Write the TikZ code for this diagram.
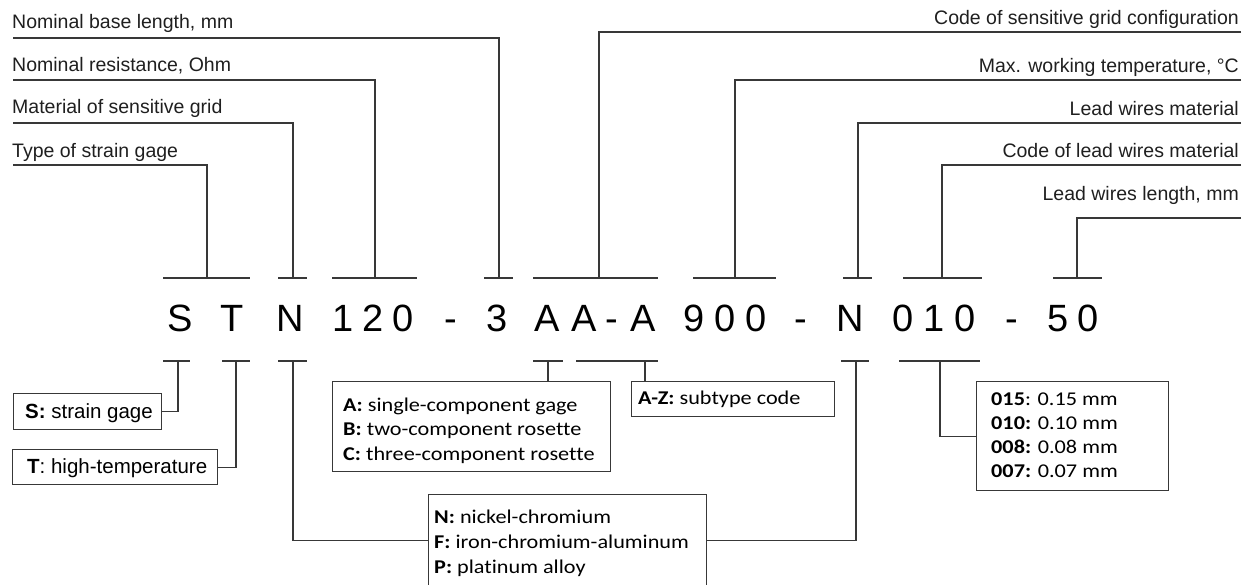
\documentclass[tikz,border=0pt]{standalone}
\usepackage{fontspec}
\setmainfont{Liberation Sans}
\newfontfamily\calib[FakeStretch=1.14,Ligatures=NoCommon]{Carlito}
\begin{document}
\begin{tikzpicture}[x=1pt,y=-1pt,
  ln/.style={line width=1.2pt, draw=black!78},
  lbl/.style={inner sep=0, font=\fontsize{19.5}{23}\selectfont, text=black!88},
  code/.style={inner sep=0, anchor=base, font=\fontsize{38}{40}\selectfont},
  box/.style={draw=black!78, line width=1.2pt, inner sep=0, anchor=north west},
  arl/.style={inner sep=0, anchor=base west, font=\fontsize{20.5}{24}\selectfont},
  cal/.style={inner sep=0, anchor=base west, font=\calib\fontsize{19.5}{24}\selectfont},
]
\useasboundingbox (0,0) rectangle (1257,584);
\clip (0,0) rectangle (1257,584);

% ---- code characters ----
\foreach \x/\c [count=\i] in {180/S, 232/T, 290/N, 343/1, 373/2, 403/0, 451/-, 497/3,
  547/A, 584/A, 612/-, 643/A, 694/9, 725/0, 756/0, 801/-, 850/N, 903/0, 934/1, 965/0,
  1012/-, 1058/5, 1088/0}
  \node[code] (c\i) at (\x,331) {\c};

% ---- top tick bars ----
\draw[ln] (163,278) -- (250,278);
\draw[ln] (278,278) -- (307,278);
\draw[ln] (332,278) -- (417,278);
\draw[ln] (484,278) -- (513,278);
\draw[ln] (533,278) -- (658,278);
\draw[ln] (693,278) -- (776,278);
\draw[ln] (843,278) -- (872,278);
\draw[ln] (903,278) -- (982,278);
\draw[ln] (1053,278) -- (1102,278);
\coordinate (tST) at (207,278);
\coordinate (tN) at (293,278);
\coordinate (t120) at (375,278);
\coordinate (t3) at (499,278);
\coordinate (tAA) at (599,278);
\coordinate (t900) at (735,278);
\coordinate (tN2) at (858,278);
\coordinate (t010) at (942,278);
\coordinate (t50) at (1077,278);

% ---- left labels ----
\node[lbl, anchor=base west] (L1) at (12,28) {Nominal base length, mm};
\node[lbl, anchor=base west] (L2) at (12,71) {Nominal resistance, Ohm};
\node[lbl, anchor=base west] (L3) at (12,113) {Material of sensitive grid};
\node[lbl, anchor=base west] (L4) at (12,157) {Type of strain gage};
\coordinate (L1s) at (13,38);
\coordinate (L2s) at (13,80);
\coordinate (L3s) at (13,123);
\coordinate (L4s) at (13,165);
\draw[ln] (L1s) -| (t3);
\draw[ln] (L2s) -| (t120);
\draw[ln] (L3s) -| (tN);
\draw[ln] (L4s) -| (tST);

% ---- right labels ----
\node[lbl, anchor=base east] (R1) at (1239,24) {Code of sensitive grid configuration};
\node[lbl, anchor=base east] (R2) at (1239,72) {Max. working temperature, °C};
\node[lbl, anchor=base east] (R3) at (1239,115) {Lead wires material};
\node[lbl, anchor=base east] (R4) at (1239,157) {Code of lead wires material};
\node[lbl, anchor=base east] (R5) at (1239,200) {Lead wires length, mm};
\coordinate (R1e) at (1241,32);
\coordinate (R2e) at (1241,80);
\coordinate (R3e) at (1241,123);
\coordinate (R4e) at (1241,165);
\coordinate (R5e) at (1241,218);
\draw[ln] (R1e) -| (tAA);
\draw[ln] (R2e) -| (t900);
\draw[ln] (R3e) -| (tN2);
\draw[ln] (R4e) -| (t010);
\draw[ln] (R5e) -| (t50);

% ---- bottom tick bars ----
\draw[ln] (163,361) -- (190,361);
\draw[ln] (222,361) -- (250,361);
\draw[ln] (278,361) -- (307,361);
\draw[ln] (533,361) -- (563,361);
\draw[ln] (576,361) -- (658,361);
\draw[ln] (841,361) -- (869,361);
\draw[ln] (899,361) -- (980,361);
\coordinate (bS) at (178,361);
\coordinate (bT) at (236,361);
\coordinate (bN) at (293,361);
\coordinate (bA) at (548,361);
\coordinate (bAZ) at (645,361);
\coordinate (bN2) at (856,361);
\coordinate (b010) at (940,361);

% ---- boxes ----
\node[box, minimum width=148, minimum height=36] (sbox) at (13,393) {};
\node[box, minimum width=205, minimum height=35] (tbox) at (12,449) {};
\node[box, minimum width=278, minimum height=90] (abcbox) at (332,381) {};
\node[box, minimum width=203, minimum height=35] (azbox) at (631,381) {};
\node[box, minimum width=278, minimum height=92] (nbox) at (428,494) {};
\node[box, minimum width=192, minimum height=109] (mbox) at (976,381) {};

% ---- box texts ----
\node[arl] (s1) at (25,418) {\textbf{S:} strain gage};
\node[arl] (t1) at (27,473) {\textbf{T}: high-temperature};
\node[cal] (a1) at (343,411) {\textbf{A:} single-component gage};
\node[cal] (a2) at (343,435.5) {\textbf{B:} two-component rosette};
\node[cal] (a3) at (343,460) {\textbf{C:} three-component rosette};
\node[cal] (z1) at (638,404) {\textbf{A-Z:} subtype code};
\node[cal] (n1) at (434,523) {\textbf{N:} nickel-chromium};
\node[cal] (n2) at (434,548) {\textbf{F:} iron-chromium-aluminum};
\node[cal] (n3) at (434,573) {\textbf{P:} platinum alloy};
\node[cal] (m1) at (991,405) {\textbf{015}: 0.15 mm};
\node[cal] (m2) at (991,429) {\textbf{010:} 0.10 mm};
\node[cal] (m3) at (991,453) {\textbf{008:} 0.08 mm};
\node[cal] (m4) at (991,477) {\textbf{007:} 0.07 mm};

% ---- bottom connectors ----
\draw[ln] (bS) |- (sbox.east);
\draw[ln] (bT) |- (tbox.east);
\draw[ln] (bN) |- (nbox.west);
\draw[ln] (bA) -- (bA |- abcbox.north);
\draw[ln] (bAZ) -- (bAZ |- azbox.north);
\draw[ln] (bN2) |- (nbox.east);
\draw[ln] (b010) |- (mbox.west);
\end{tikzpicture}
\end{document}
